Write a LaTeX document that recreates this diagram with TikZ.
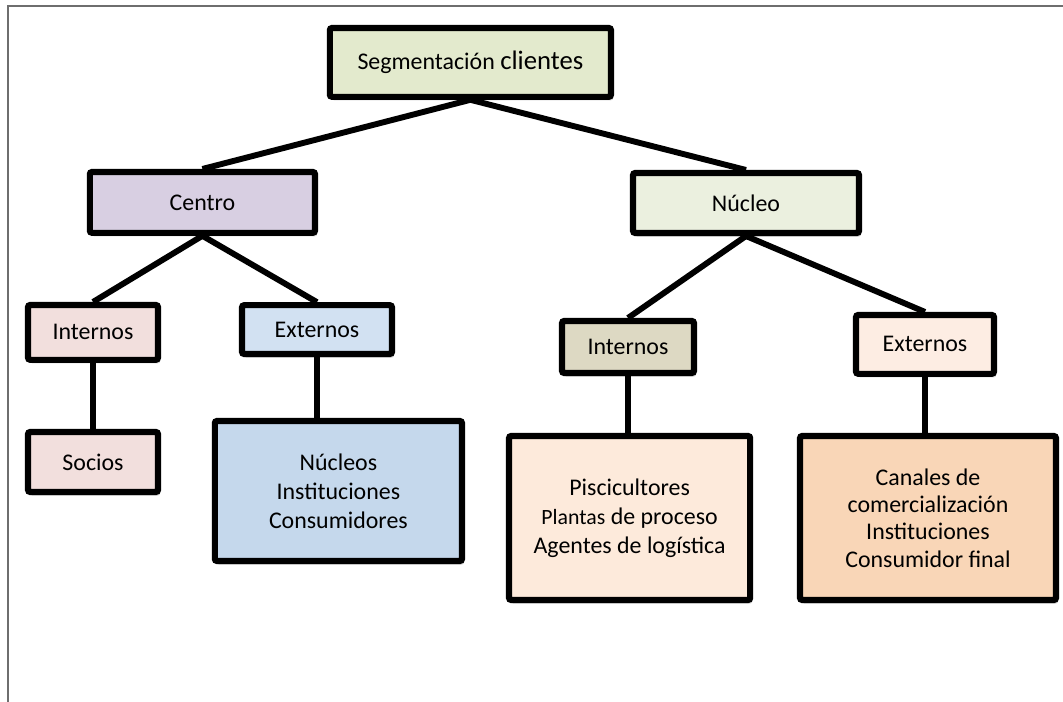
\documentclass[tikz,border=0pt]{standalone}
\usepackage{fontspec}
\setmainfont{Carlito}
\usepackage{tikz}
\usetikzlibrary{shadows}

% fill colours of the boxes
\definecolor{segfill}{HTML}{E3EACD}
\definecolor{cenfill}{HTML}{D8CFE2}
\definecolor{nucfill}{HTML}{EBF0DF}
\definecolor{intfill}{HTML}{F2DFDD}
\definecolor{extfill}{HTML}{D2E1F2}
\definecolor{nusfill}{HTML}{C5D8EC}
\definecolor{ntrfill}{HTML}{DDD9C3}
\definecolor{nxtfill}{HTML}{FDEDE3}
\definecolor{pisfill}{HTML}{FDEADB}
\definecolor{canfill}{HTML}{F9D6B7}
\definecolor{framegray}{HTML}{6E6E6E}

\begin{document}
\begin{tikzpicture}[scale=1.0,
  box/.style={draw=black, line width=4.3pt, rounded corners=1.5pt,
    align=center, inner sep=0pt, font=\fontsize{17}{20.5}\selectfont,
    drop shadow={opacity=0.35, shadow xshift=1.5pt, shadow yshift=-2.5pt}},
  link/.style={line width=4.2pt}]
\useasboundingbox (0,0) rectangle (26.575,17.55);
\draw[line width=1.4pt, framegray] (0.2,0) -- (0.2,17.4) -- (26.575,17.4);

% top level
\node[box, fill=segfill, minimum width=7.03cm, minimum height=1.72cm] (seg) at (11.76,15.99)
  {Segmentación {\fontsize{19}{20}\selectfont clientes}};
\node[box, fill=cenfill, minimum width=5.63cm, minimum height=1.52cm] (centro) at (5.06,12.49) {Centro};
\node[box, fill=nucfill, minimum width=5.65cm, minimum height=1.5cm] (nucleo) at (18.65,12.475) {Núcleo};

% centro
\node[box, fill=intfill, minimum width=3.25cm, minimum height=1.37cm] (cint) at (2.325,9.24) {Internos};
\node[box, fill=extfill, minimum width=3.75cm, minimum height=1.22cm] (cext) at (7.925,9.31) {Externos};
\node[box, fill=intfill, minimum width=3.25cm, minimum height=1.5cm] (socios) at (2.325,6.0) {Socios};
\node[box, fill=nusfill, minimum width=6.18cm, minimum height=3.5cm] (cgrupos) at (8.46,5.275)
  {Núcleos\\Instituciones\\Consumidores};

% nucleo
\node[box, fill=ntrfill, minimum width=3.3cm, minimum height=1.3cm] (nint) at (15.7,8.875) {Internos};
\node[box, fill=nxtfill, minimum width=3.45cm, minimum height=1.47cm] (next) at (23.125,8.94) {Externos};
\node[box, fill=pisfill, minimum width=6.03cm, minimum height=4.1cm] (ngrupos) at (15.74,4.6)
  {Piscicultores\\{\fontsize{15.5}{20}\selectfont Plantas} de proceso\\Agentes de logística};
\node[box, fill=canfill, minimum width=6.4cm, minimum height=4.1cm, font=\fontsize{17}{19.5}\selectfont] (canales) at (23.2,4.6)
  {Canales de\\comercialización\\Instituciones\\Consumidor final};

% connectors
\draw[link] (seg.south) -- (centro.north);
\draw[link] (seg.south) -- (nucleo.north);
\draw[link] (centro.south) -- (cint.north);
\draw[link] (centro.south) -- (cext.north);
\draw[link] (cint.south) -- (socios.north);
\draw[link] (cext.south) -- (cext.south |- cgrupos.north);
\draw[link] (nucleo.south) -- (nint.north);
\draw[link] (nucleo.south) -- (next.north);
\draw[link] (nint.south) -- (nint.south |- ngrupos.north);
\draw[link] (next.south) -- (next.south |- canales.north);
\end{tikzpicture}
\end{document}
